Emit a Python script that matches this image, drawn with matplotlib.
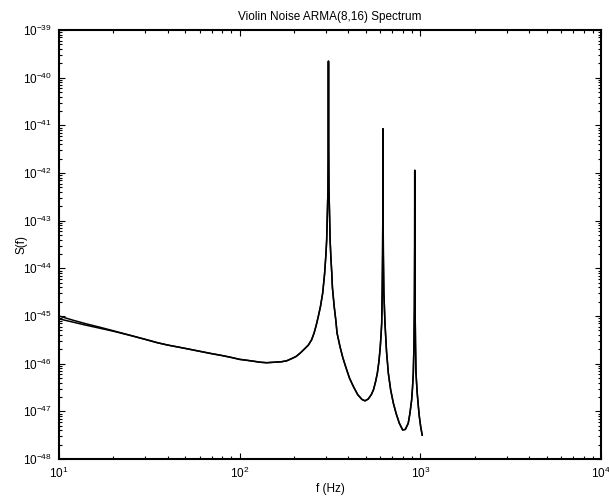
import matplotlib
matplotlib.use("Agg")
import matplotlib.pyplot as plt
import matplotlib.ticker as ticker
import numpy as np

plt.rcParams["font.family"] = ["Liberation Sans", "DejaVu Sans"]
plt.rcParams["mathtext.fontset"] = "custom"
plt.rcParams["mathtext.rm"] = "Liberation Sans"
plt.rcParams["mathtext.it"] = "Liberation Sans:italic"

# Frequencies (Hz) and log10 of the spectrum
freq = [10, 12, 14, 17, 20, 25, 30, 35, 40, 50, 60, 70, 80, 90, 100, 110,
        120, 130, 141, 155, 170, 182, 195, 205, 216, 230, 240, 250, 258, 265,
        272, 280, 288, 295, 300, 303, 306, 308, 309, 310, 311, 312, 314, 316.6,
        320, 323.4, 326, 333.5, 340, 346, 359, 372, 385, 405, 426, 450, 475,
        494, 515, 535, 550, 565, 578, 590, 600, 607, 611, 615, 618, 620, 621,
        622, 624, 628, 637, 650, 665, 685, 709, 735, 765, 798, 825, 845, 857,
        875, 895, 905, 914, 922, 927, 930, 931, 932, 935, 940, 946, 960, 975,
        987, 1005, 1024]

log_s_model = [-45.00, -45.09, -45.16, -45.24, -45.31, -45.41, -45.49, -45.56,
               -45.61, -45.68, -45.74, -45.79, -45.83, -45.87, -45.91, -45.93,
               -45.95, -45.97, -45.98, -45.97, -45.96, -45.94, -45.89, -45.85,
               -45.78, -45.68, -45.61, -45.50, -45.36, -45.20, -45.02, -44.80,
               -44.52, -44.12, -43.72, -43.41, -42.78, -42.36, -41.52, -39.65,
               -41.52, -42.36, -42.78, -43.41, -43.80, -44.10, -44.40, -44.80,
               -45.07, -45.36, -45.64, -45.87, -46.05, -46.30, -46.48, -46.65,
               -46.75, -46.78, -46.74, -46.65, -46.55, -46.38, -46.20, -45.95,
               -45.65, -45.35, -45.15, -44.50, -43.70, -42.80, -41.07, -42.80,
               -43.70, -44.50, -45.15, -45.75, -46.20, -46.55, -46.83, -47.05,
               -47.25, -47.39, -47.38, -47.30, -47.25, -47.05, -46.76, -46.50,
               -46.20, -45.60, -44.80, -43.50, -41.94, -43.50, -44.80, -45.60,
               -46.20, -46.60, -46.90, -47.11, -47.33, -47.50]

# second curve: sits a little lower at the low-frequency end, same elsewhere
log_s_fit = [-45.06, -45.13, -45.19, -45.26, -45.32, -45.41, -45.49, -45.56,
             -45.61, -45.68, -45.74, -45.79, -45.83, -45.87, -45.91, -45.93,
             -45.95, -45.97, -45.98, -45.97, -45.96, -45.94, -45.89, -45.85,
             -45.78, -45.68, -45.61, -45.50, -45.36, -45.20, -45.02, -44.80,
             -44.52, -44.12, -43.72, -43.41, -42.78, -42.36, -41.52, -39.66,
             -41.52, -42.36, -42.78, -43.41, -43.80, -44.10, -44.40, -44.80,
             -45.07, -45.36, -45.64, -45.87, -46.05, -46.30, -46.48, -46.65,
             -46.75, -46.78, -46.74, -46.65, -46.55, -46.38, -46.20, -45.95,
             -45.65, -45.35, -45.15, -44.50, -43.70, -42.80, -41.08, -42.80,
             -43.70, -44.50, -45.15, -45.75, -46.20, -46.55, -46.83, -47.05,
             -47.25, -47.39, -47.38, -47.30, -47.25, -47.05, -46.76, -46.50,
             -46.20, -45.60, -44.80, -43.50, -41.95, -43.50, -44.80, -45.60,
             -46.20, -46.60, -46.90, -47.11, -47.33, -47.50]


def sci_label(val, pos):
    exp = int(round(np.log10(val)))
    return r"$\mathregular{10^{%d}}$" % exp


def main():
    fig = plt.figure(figsize=(6.09, 4.98), dpi=100)
    ax = fig.add_axes([0.0969, 0.0783, 0.89, 0.8615])

    ax.loglog(freq, 10.0 ** np.array(log_s_model), color="black", lw=1.1)
    ax.loglog(freq, 10.0 ** np.array(log_s_fit), color="black", lw=1.1)

    ax.set_xlim(10, 1e4)
    ax.set_ylim(1e-48, 1e-39)

    ax.xaxis.set_major_locator(ticker.LogLocator(base=10, numticks=10))
    ax.yaxis.set_major_locator(ticker.LogLocator(base=10, numticks=20))
    ax.xaxis.set_minor_locator(ticker.LogLocator(base=10, subs=np.arange(2, 10), numticks=20))
    ax.yaxis.set_minor_locator(ticker.LogLocator(base=10, subs=np.arange(2, 10), numticks=20))
    ax.xaxis.set_major_formatter(ticker.FuncFormatter(sci_label))
    ax.yaxis.set_major_formatter(ticker.FuncFormatter(sci_label))
    ax.xaxis.set_minor_formatter(ticker.NullFormatter())
    ax.yaxis.set_minor_formatter(ticker.NullFormatter())

    ax.tick_params(which="both", direction="in", top=True, right=True,
                   labelsize=8.5, width=0.8)
    ax.tick_params(which="major", length=4, pad=5)
    ax.tick_params(which="minor", length=2.5)
    for side in ax.spines.values():
        side.set_linewidth(1.5)

    ax.set_title("Violin Noise ARMA(8,16) Spectrum", fontsize=8.5, pad=7)
    ax.set_xlabel("f (Hz)", fontsize=8.5, labelpad=1)
    ax.set_ylabel("S(f)", fontsize=8.5, labelpad=-3)

    fig.savefig("out.png", dpi=100)


if __name__ == "__main__":
    main()
